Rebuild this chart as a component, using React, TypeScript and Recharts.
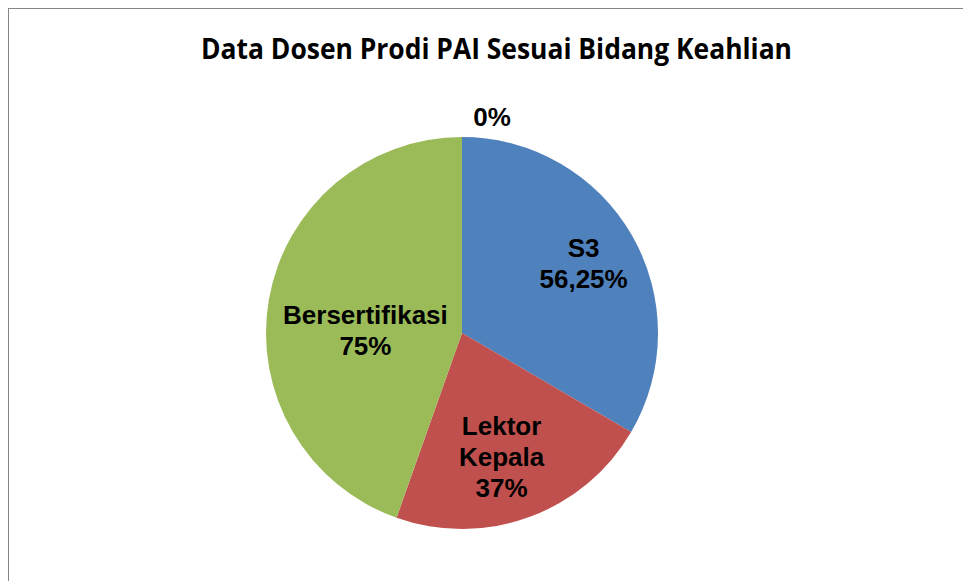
import React from 'react';
import { PieChart, Pie, Cell } from 'recharts';

const categories = ['S3', 'Lektor Kepala', 'Bersertifikasi', ''];
const values = [56.25, 37, 75, 0];
const valueLabels = ['56,25%', '37%', '75%', '0%'];
const colors = ['#4F81BD', '#C0504D', '#9BBB59', '#8064A2'];
const title = 'Data Dosen Prodi PAI Sesuai Bidang Keahlian';

const data = categories.map((name, i) => ({ name, value: values[i], text: valueLabels[i] }));

const W = 962;
const H = 572;

// label placement relative to each slice (radius factor along mid angle + nudge)
const labelPlacement = [
  { r: 0.715, dx: 0, dy: 0 },
  { r: 0.663, dx: -5, dy: 2 },
  { r: 0.5, dx: 0, dy: 14 },
  { r: 1.1, dx: 30, dy: 0 },
];

const RAD = Math.PI / 180;

const renderLabel = (props: any) => {
  const { cx, cy, midAngle, outerRadius, index } = props;
  const p = labelPlacement[index] || { r: 0.7, dx: 0, dy: 0 };
  const r = outerRadius * p.r;
  const x = cx + r * Math.cos(-midAngle * RAD) + p.dx;
  const y = cy + r * Math.sin(-midAngle * RAD) + p.dy;
  const d = data[index];
  const lines = [...(d.name ? d.name.split(' ') : []), d.text];
  const lh = 31;
  const y0 = y - ((lines.length - 1) * lh) / 2 + 9;
  return (
    <text
      key={'lbl' + index}
      x={x}
      y={y0}
      textAnchor="middle"
      fill="#000"
      style={{ fontFamily: '"Liberation Sans", Arial, sans-serif', fontWeight: 700, fontSize: 26 }}
    >
      {lines.map((l, i) => (
        <tspan key={i} x={x} y={y0 + i * lh}>
          {l}
        </tspan>
      ))}
    </text>
  );
};

export default function App() {
  return (
    <div
      style={{
        position: 'relative',
        width: W,
        height: H,
        borderLeft: '1px solid #868686',
        borderTop: '1px solid #868686',
        background: '#fff',
      }}
    >
      <PieChart width={W} height={H} margin={{ top: 0, right: 0, bottom: 0, left: 0 }}>
        <Pie
          data={data}
          dataKey="value"
          nameKey="name"
          cx={453}
          cy={324}
          outerRadius={196}
          startAngle={90}
          endAngle={-270}
          stroke="none"
          isAnimationActive={false}
          labelLine={false}
          label={renderLabel}
        >
          {data.map((d, i) => (
            <Cell key={d.name + i} fill={colors[i]} />
          ))}
        </Pie>
      </PieChart>
      <svg
        width={W}
        height={80}
        style={{ position: 'absolute', left: 0, top: 0, pointerEvents: 'none' }}
      >
        <text
          x={487.5}
          y={50}
          textAnchor="middle"
          textLength={591}
          lengthAdjust="spacingAndGlyphs"
          style={{ fontFamily: '"Open Sans", sans-serif', fontWeight: 700, fontSize: 28 }}
          fill="#000"
        >
          {title}
        </text>
      </svg>
    </div>
  );
}
